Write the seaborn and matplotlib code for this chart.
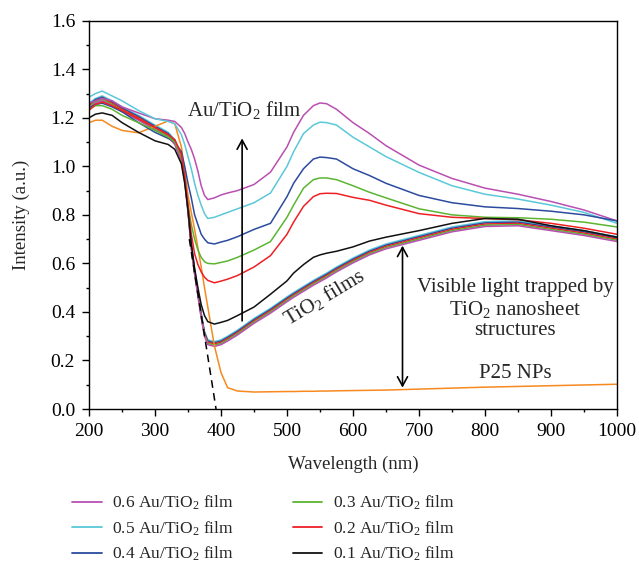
import numpy as np
import pandas as pd
import matplotlib
matplotlib.use("Agg")
import matplotlib.pyplot as plt
from matplotlib.ticker import MultipleLocator
import seaborn as sns

# ---------------- data ----------------
wavelength = [200, 210, 220, 235, 250, 275, 300, 320, 330, 340, 345, 350, 355, 360, 365, 370,
              375, 380, 390, 400, 410, 425, 450, 475, 500, 510, 525, 540, 550, 560, 575,
              600, 625, 650, 700, 750, 800, 850, 900, 950, 1000]

au06 = [1.26, 1.27, 1.28, 1.27, 1.245, 1.22, 1.196, 1.19, 1.185, 1.16, 1.135, 1.10, 1.07, 1.03, 0.98, 0.92,
        0.88, 0.863, 0.87, 0.882, 0.89, 0.90, 0.925, 0.976, 1.08, 1.14, 1.21, 1.25, 1.261, 1.258, 1.235,
        1.18, 1.135, 1.085, 1.005, 0.95, 0.91, 0.885, 0.855, 0.82, 0.775]
au05 = [1.285, 1.30, 1.31, 1.29, 1.27, 1.23, 1.196, 1.185, 1.175, 1.13, 1.09, 1.04, 0.99, 0.93, 0.88, 0.84,
        0.805, 0.785, 0.79, 0.80, 0.81, 0.825, 0.85, 0.89, 1.0, 1.06, 1.135, 1.17, 1.182, 1.18, 1.17,
        1.12, 1.08, 1.04, 0.975, 0.92, 0.885, 0.865, 0.84, 0.81, 0.765]
au04 = [1.24, 1.255, 1.26, 1.245, 1.225, 1.18, 1.14, 1.115, 1.10, 1.06, 1.0, 0.93, 0.87, 0.80, 0.76, 0.72,
        0.70, 0.685, 0.68, 0.688, 0.695, 0.71, 0.74, 0.765, 0.875, 0.93, 0.99, 1.03, 1.038, 1.036, 1.03,
        0.99, 0.962, 0.93, 0.88, 0.85, 0.833, 0.826, 0.815, 0.80, 0.775]
au03 = [1.235, 1.25, 1.25, 1.235, 1.21, 1.18, 1.148, 1.12, 1.10, 1.04, 0.95, 0.84, 0.76, 0.70, 0.655, 0.625,
        0.607, 0.60, 0.598, 0.604, 0.61, 0.625, 0.655, 0.69, 0.79, 0.84, 0.91, 0.945, 0.952, 0.952, 0.945,
        0.92, 0.893, 0.87, 0.825, 0.80, 0.79, 0.788, 0.782, 0.77, 0.75]
au02 = [1.23, 1.255, 1.265, 1.25, 1.23, 1.195, 1.16, 1.13, 1.11, 1.05, 0.96, 0.84, 0.72, 0.64, 0.595, 0.565,
        0.543, 0.53, 0.52, 0.527, 0.535, 0.55, 0.585, 0.632, 0.72, 0.77, 0.835, 0.875, 0.887, 0.889, 0.888,
        0.872, 0.86, 0.84, 0.805, 0.79, 0.785, 0.78, 0.765, 0.745, 0.72]
au01 = [1.20, 1.215, 1.22, 1.21, 1.18, 1.14, 1.105, 1.09, 1.07, 1.01, 0.93, 0.82, 0.68, 0.58, 0.50, 0.43,
        0.385, 0.36, 0.35, 0.357, 0.365, 0.385, 0.42, 0.473, 0.528, 0.56, 0.595, 0.625, 0.635, 0.642, 0.65,
        0.668, 0.692, 0.708, 0.735, 0.765, 0.785, 0.782, 0.755, 0.735, 0.708]
tio2 = [1.25, 1.27, 1.28, 1.26, 1.235, 1.20, 1.16, 1.13, 1.10, 1.03, 0.95, 0.82, 0.67, 0.565, 0.475, 0.385,
        0.31, 0.275, 0.268, 0.275, 0.29, 0.315, 0.363, 0.405, 0.452, 0.47, 0.495, 0.52, 0.535, 0.55, 0.575,
        0.612, 0.645, 0.67, 0.705, 0.74, 0.762, 0.765, 0.745, 0.725, 0.70]
p25 = [1.18, 1.19, 1.19, 1.165, 1.148, 1.138, 1.165, 1.187, 1.175, 1.08, 0.98, 0.88, 0.81, 0.74, 0.665, 0.585,
       0.50, 0.42, 0.26, 0.15, 0.088, 0.074, 0.070, 0.071, 0.072, 0.072, 0.073, 0.073, 0.074, 0.074, 0.075,
       0.076, 0.077, 0.078, 0.082, 0.086, 0.090, 0.093, 0.096, 0.099, 0.102]

# the TiO2-film bundle: several nearly overlapping curves
tio2_offsets = [0.010, 0.005, 0.0, -0.005, -0.010]
tio2_colors = ["#5bc8d8", "#2c4b9e", "#ee2024", "#5cb531", "#b94fb3"]

# dashed tangent of the absorption edge
tangent_x = [352, 392.5]
tangent_y = [0.70, 0.0]

au_labels = ["0.6 Au/TiO$_2$ film", "0.5 Au/TiO$_2$ film", "0.4 Au/TiO$_2$ film",
             "0.3 Au/TiO$_2$ film", "0.2 Au/TiO$_2$ film", "0.1 Au/TiO$_2$ film"]
au_values = [au06, au05, au04, au03, au02, au01]
au_colors = ["#b94fb3", "#5bc8d8", "#2c4b9e", "#5cb531", "#ee2024", "#111111"]
p25_color = "#f7891f"

# ---------------- style ----------------
sns.set_theme(style="ticks")
plt.rcParams["font.family"] = ["Liberation Serif", "DejaVu Serif"]
plt.rcParams["mathtext.fontset"] = "custom"
plt.rcParams["mathtext.rm"] = "Liberation Serif"
plt.rcParams["mathtext.it"] = "Liberation Serif:italic"
plt.rcParams["mathtext.bf"] = "Liberation Serif:bold"

fig = plt.figure(figsize=(6.39, 5.65), dpi=100)
ax = fig.add_axes([89 / 639, 1 - 409 / 565, (617 - 89) / 639, (409 - 20.7) / 565])

lw = 1.1
# TiO2 bundle (no legend)
for off, col in zip(tio2_offsets, tio2_colors):
    sns.lineplot(x=wavelength, y=[v + off for v in tio2], color=col, lw=lw,
                 ax=ax, legend=False, sort=False, estimator=None)

# P25 NPs
sns.lineplot(x=wavelength, y=p25, color=p25_color, lw=lw, ax=ax, legend=False,
             sort=False, estimator=None)

# Au/TiO2 films
df = pd.concat([pd.DataFrame({"wavelength": wavelength, "intensity": v, "sample": lab})
                for lab, v in zip(au_labels, au_values)], ignore_index=True)
sns.lineplot(data=df, x="wavelength", y="intensity", hue="sample",
             hue_order=au_labels, palette=dict(zip(au_labels, au_colors)),
             lw=lw, ax=ax, sort=False, estimator=None)

# tangent line
sns.lineplot(x=tangent_x, y=tangent_y, color="black", lw=1.1, ax=ax, legend=False,
             sort=False, estimator=None, linestyle=(0, (5, 3.5)))

ax.set_xlim(200, 1000)
ax.set_ylim(0, 1.6)
ax.xaxis.set_major_locator(MultipleLocator(100))
ax.xaxis.set_minor_locator(MultipleLocator(50))
ax.yaxis.set_major_locator(MultipleLocator(0.2))
ax.yaxis.set_minor_locator(MultipleLocator(0.1))
ax.yaxis.set_major_formatter(matplotlib.ticker.FormatStrFormatter("%.1f"))
ax.tick_params(which="major", direction="out", length=5, width=1, labelsize=14,
               colors="black", pad=5)
ax.tick_params(which="minor", direction="out", length=2.5, width=1, colors="black")
for s in ax.spines.values():
    s.set_visible(True)
    s.set_linewidth(1.0)
    s.set_color("black")

ax.set_xlabel("Wavelength (nm)", fontsize=13.5)
ax.set_ylabel("Intensity (a.u.)", fontsize=13.5)
ax.xaxis.set_label_coords(0.5, -0.12)
ax.yaxis.set_label_coords(-0.111, 0.5)

# annotations
fs_ann = 15
ax.text(436, 1.23, "Au/TiO$_2$ film", fontsize=fs_ann, ha="center", va="center")
ax.annotate("", xy=(432, 1.115), xytext=(432, 0.363),
            arrowprops=dict(arrowstyle="->,head_length=0.55,head_width=0.3",
                            lw=1.2, color="black", shrinkA=0, shrinkB=0))
ax.text(556, 0.46, "TiO$_2$ films", fontsize=fs_ann, ha="center", va="center", rotation=31)
ax.annotate("", xy=(675, 0.673), xytext=(675, 0.088),
            arrowprops=dict(arrowstyle="<->,head_length=0.55,head_width=0.3",
                            lw=1.2, color="black", shrinkA=0, shrinkB=0))
ax.text(846, 0.41, "Visible light trapped by\nTiO$_2$ nanosheet\nstructures",
        fontsize=fs_ann, ha="center", va="center", linespacing=1.1)
ax.text(846, 0.146, "P25 NPs", fontsize=fs_ann, ha="center", va="center")

handles, labels = ax.get_legend_handles_labels()
lab2h = dict(zip(labels, handles))
leg = ax.legend([lab2h[l] for l in au_labels], au_labels, ncol=2, frameon=False,
                loc="upper left", bbox_to_anchor=(72 / 639, 1 - 494 / 565),
                bbox_transform=fig.transFigure, borderpad=0, borderaxespad=0,
                fontsize=12.5, handlelength=1.7, handletextpad=0.6,
                columnspacing=3.4, labelspacing=0.40)
for h in leg.legend_handles:
    h.set_linewidth(1.3)

fig.savefig("out.png", dpi=100)
